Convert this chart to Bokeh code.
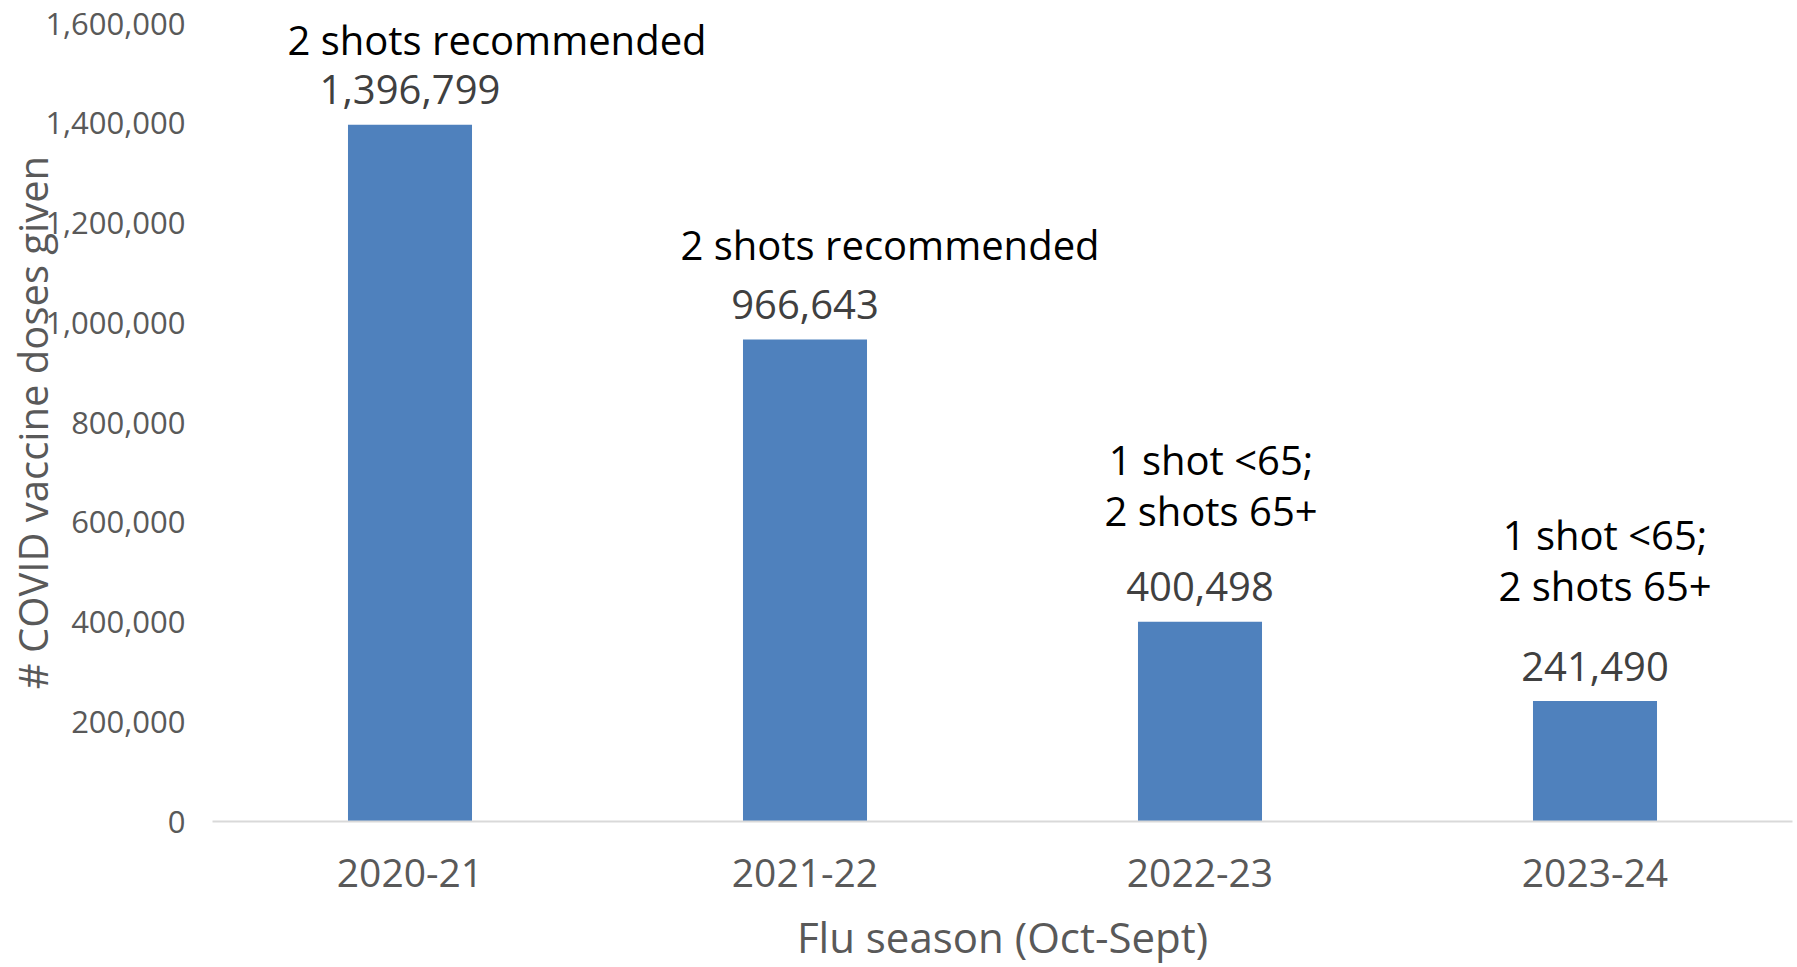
from bokeh.plotting import figure
from bokeh.models import ColumnDataSource, Range1d, FixedTicker, NumeralTickFormatter
from bokeh.core.properties import value
from bokeh.embed import file_html
from bokeh.resources import INLINE

# ---- data ----
seasons = ["2020-21", "2021-22", "2022-23", "2023-24"]
doses = [1396799, 966643, 400498, 241490]
notes = ["2 shots recommended", "2 shots recommended",
         "1 shot <65;\n2 shots 65+", "1 shot <65;\n2 shots 65+"]
y_ticks = [0, 200000, 400000, 600000, 800000, 1000000, 1200000, 1400000, 1600000]
x_title = "Flu season (Oct-Sept)"
y_title = "# COVID vaccine doses given"

# ---- layout (pixel offsets of the note boxes relative to bar tops) ----
note_dx = [87, 85, 11, 10]
note_dy = [-58, -67, -84, -88]

FONT = "Open Sans"
BAR = "#4F81BD"

src = ColumnDataSource(dict(
    season=seasons,
    doses=doses,
    label=[f"{v:,}" for v in doses],
    note=notes,
    ndx=note_dx,
    ndy=note_dy,
))

p = figure(x_range=seasons, y_range=Range1d(0, 1600000),
           width=1797, height=967, output_backend="svg", toolbar_location=None,
           min_border_left=212, min_border_right=5, min_border_top=23,
           min_border_bottom=146)
p.outline_line_color = None
p.background_fill_color = "white"
p.border_fill_color = "white"
p.xgrid.grid_line_color = None
p.ygrid.grid_line_color = None

p.vbar(x="season", top="doses", bottom=0, width=0.314, source=src,
       fill_color=BAR, line_color=None)

p.text(x="season", y="doses", text="label", source=src,
       text_align="center", text_baseline="alphabetic", y_offset=-35,
       text_font=value(FONT), text_font_size="40px", text_color="#404040")

p.text(x="season", y="doses", text="note", source=src,
       x_offset="ndx", y_offset="ndy",
       text_align="center", text_baseline="bottom", text_line_height=0.93,
       text_font=value(FONT), text_font_size="40px", text_color="#000000")

# y axis
ya = p.yaxis[0]
ya.ticker = FixedTicker(ticks=y_ticks)
ya.formatter = NumeralTickFormatter(format="0,0")
ya.axis_line_color = None
ya.major_tick_line_color = None
ya.minor_tick_line_color = None
ya.major_label_standoff = 21
ya.major_label_text_font = FONT
ya.major_label_text_font_size = "31px"
ya.major_label_text_color = "#595959"
ya.axis_label = y_title
ya.axis_label_standoff = -18
ya.axis_label_text_font = FONT
ya.axis_label_text_font_size = "40px"
ya.axis_label_text_font_style = "normal"
ya.axis_label_text_color = "#595959"

# x axis
xa = p.xaxis[0]
xa.axis_line_color = "#D9D9D9"
xa.axis_line_width = 2
xa.major_tick_line_color = None
xa.minor_tick_line_color = None
xa.major_label_standoff = 31
xa.major_label_text_font = FONT
xa.major_label_text_font_size = "39px"
xa.major_label_text_color = "#595959"
xa.axis_label = x_title
xa.axis_label_standoff = 18
xa.axis_label_text_font = FONT
xa.axis_label_text_font_size = "42px"
xa.axis_label_text_font_style = "normal"
xa.axis_label_text_color = "#595959"

open("out.html", "w").write(file_html(p, INLINE))
